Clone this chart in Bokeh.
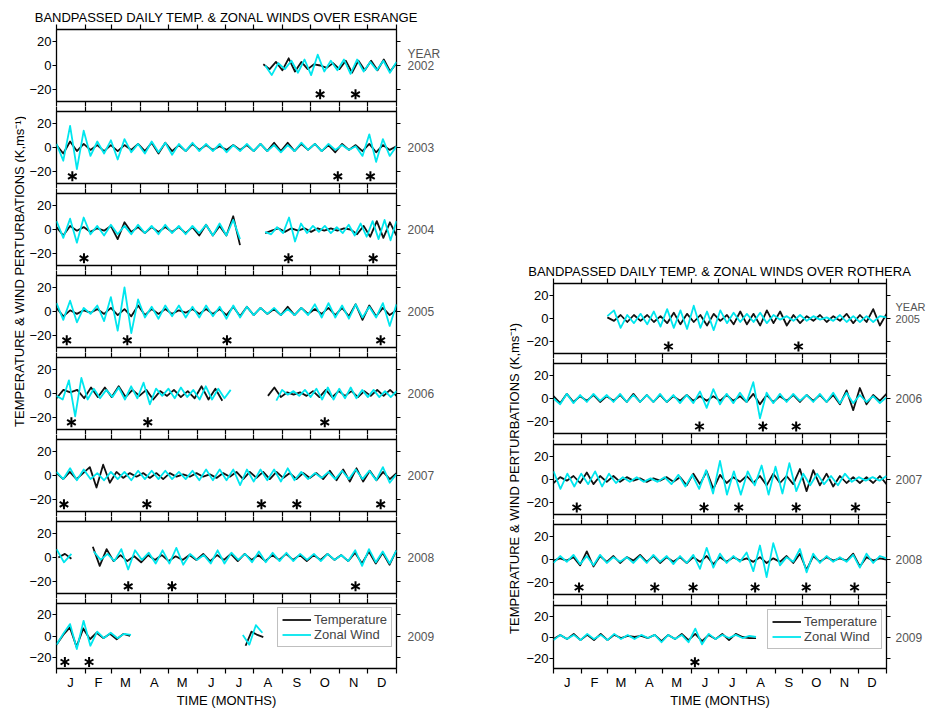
import math
import numpy as np
from bokeh.plotting import figure
from bokeh.layouts import row, column
from bokeh.models import Range1d, LinearAxis, FixedTicker, Label, Legend, LegendItem
from bokeh.embed import file_html
from bokeh.resources import INLINE

FONT = "Liberation Sans"
TEMP_COLOR = "#111111"
WIND_COLOR = "#00E6EE"

MONTH_STARTS = [0, 31, 59, 90, 120, 151, 181, 212, 243, 273, 304, 334, 365]
MONTH_MIDS = [15, 45, 74, 105, 135, 166, 196, 227, 258, 288, 319, 349]
MONTH_LETTERS = ["J", "F", "M", "A", "M", "J", "J", "A", "S", "O", "N", "D"]
Y_TICKS = [-20, 0, 20]
STAR_LEVEL = -24
YEAR_TAG_LEVEL = 10

TITLE_ES = "BANDPASSED DAILY TEMP. & ZONAL WINDS OVER ESRANGE"
TITLE_RO = "BANDPASSED DAILY TEMP. & ZONAL WINDS OVER ROTHERA"
Y_LABEL = "TEMPERATURE & WIND PERTURBATIONS (K,ms\u207b\u00b9)"
X_LABEL = "TIME (MONTHS)"

# ---- ESRANGE: segments of (first day, last day, successive extremes) ----
es2002_temp = [(222, 365, [1, -3, 3, -4, 6, -5, 3, -3, 1, 0, -2, 2, -3, 4, -6, 4, -4, 4, -4, 5, -5, 2])]
es2002_wind = [(224, 365, [0, -8, 2, -3, 4, -6, 5, -8, 9, -5, 4, -4, 5, -7, 5, -5, 3, -4, 4, -6, 3])]
es2002_stars = [283, 321]

es2003_temp = [(0, 365, [2, -5, 5, -3, 3, -2, 2, -3, 2, -3, 2, -2, 3, -3, 4, -5, 4, -3, 2, -3, 3, -2, 2, -2, 1,
                         -2, 2, -2, 2, -3, 3, -3, 4, -3, 4, -3, 3, -2, 3, -3, 2, -4, 3, -2, 2, -3, 3, -4, 2, -2, 1])]
es2003_wind = [(0, 365, [3, -11, 18, -18, 14, -7, 5, -5, 6, -10, 7, -4, 3, -5, 5, -4, 4, -6, 3, -3, 4, -3, 3, -3, 3,
                         -4, 2, -3, 3, -3, 3, -3, 2, -4, 2, -3, 4, -2, 3, -3, 3, -2, 2, -2, 1, -7, 11, -12, 7, -7, 1])]
es2003_stars = [17, 302, 337]

es2004_temp = [(0, 197, [2, -5, 3, -1, 2, -2, 1, -1, 3, -8, 6, -2, 2, -3, 2, -2, 2, -2, 2, -3, 2, -5, 4, -5, 3, -5, 11, -13]),
               (224, 365, [-3, -1, 1, -2, 1, -1, 1, -2, 1, -1, 1, -1, 1, 0, -4, 3, -6, 7, -7, 6, -5])]
es2004_wind = [(0, 197, [7, -7, 9, -11, 10, -4, 3, -5, 4, -4, 3, -4, 4, -3, 3, -4, 4, -3, 3, -4, 3, -3, 4, -5, 5, -5, 8, -8]),
               (224, 365, [-2, -4, 2, -3, 10, -10, 5, -3, 3, -2, 3, -3, 2, -3, 4, -5, 5, -6, 7, -8, 8, -9, 7])]
es2004_stars = [29.5, 249, 340]

es2005_temp = [(0, 365, [3, -4, 1, -2, 1, -1, 2, -2, 3, -3, 2, -4, 5, -3, 2, -2, 2, -2, 1, -1, 2, -2, 2, -2, 2,
                         -3, 4, -4, 4, -3, 3, -2, 2, -3, 4, -3, 3, -2, 2, -2, 3, -3, 3, -4, 6, -7, 5, -4, 3, -3, 1])]
es2005_wind = [(0, 365, [7, -7, 9, -9, 3, -2, 5, -8, 12, -16, 20, -18, 10, -5, 4, -6, 5, -4, 5, -5, 4, -5, 5, -4, 4,
                         -6, 5, -5, 4, -3, 3, -2, 3, -3, 2, -3, 3, -3, 6, -5, 7, -5, 5, -6, 6, -5, 4, -5, 7, -12, 6])]
es2005_stars = [11, 76, 183, 348]

es2006_temp = [(0, 178, [-4, 3, 1, 3, -4, 5, -3, 5, -3, 6, -3, 3, -2, 3, -5, 2, -2, 3, -3, 2, -4, 6, -5, 4, -6]),
               (227, 365, [-2, 5, -3, 1, -1, 1, -2, 2, -3, 3, -3, 2, -2, 2, -3, 2, -2, 3, -2, 3, -2])]
es2006_wind = [(0, 187, [-2, -5, 11, -19, 13, -5, 4, -4, 3, -3, 5, -5, 6, -4, 9, -9, 4, -2, 4, -4, 5, -3, 3, -5, 6, -5, 4, -4, 3]),
               (236, 365, [-6, 3, -1, 2, -2, 3, -3, 4, -5, 5, -5, 4, -4, 5, -4, 3, -3, 3, -3, 2, -3, 2])]
es2006_stars = [16, 98, 288]

es2007_temp = [(0, 365, [2, -3, 3, -3, 2, 7, -10, 9, -6, 3, -2, 2, -1, 2, -2, 2, -3, 2, -1, 1, -1, 2, -1, 1, -2, 2,
                         -1, 3, -3, 3, -2, 3, -3, 3, -2, 2, -3, 2, -2, 2, -3, 4, -4, 5, -5, 6, -5, 4, -4, 3, -3, 2])]
es2007_wind = [(0, 365, [3, -3, 6, -4, 5, -3, 2, -4, 3, -3, 3, -4, 4, -3, 4, -3, 4, -3, 3, -3, 4, -4, 5, -4, 5,
                         -4, 5, -8, 5, -5, 5, -4, 5, -5, 6, -4, 3, -3, 2, -2, 3, -3, 4, -3, 5, -3, 4, -4, 7, -6, 1])]
es2007_stars = [8, 97, 220, 258, 348]

es2008_temp = [(2, 16, [0, 3, -1]),
               (39, 365, [9, -7, 7, -3, 2, -3, 1, -4, 2, -2, 2, -3, 1, -2, 2, -2, 3, -3, 2, -2, 3, -3, 3, -2, 2,
                          -3, 2, -2, 3, -2, 2, -3, 2, -2, 3, -2, 2, -3, 4, -5, 5, -5, 4, -6, 6])]
es2008_wind = [(0, 16, [7, -4, 3]),
               (40, 365, [5, -2, 3, -3, 7, -10, 6, -2, 4, -5, 6, -5, 8, -6, 3, -2, 2, -5, 6, -5, 4, -2, 3, -4, 5,
                          -4, 4, -3, 4, -3, 3, -2, 3, -3, 3, -2, 2, -3, 6, -7, 7, -4, 5, -5, 6])]
es2008_stars = [77, 124, 321]

es2009_temp = [(0, 79, [-8, 1, 8, -10, 7, -3, 3, -2, 2, -3, 2, 0]),
               (203, 222, [-9, 4, 1, -1])]
es2009_wind = [(0, 80, [-8, 2, 11, -12, 14, -9, 4, -2, 3, -2, 2, 1]),
               (200, 221, [1, -8, 10, 3])]
es2009_stars = [9, 35]

# ---- ROTHERA ----
ro2005_temp = [(59, 365, [1, -2, 3, -3, 3, -2, 3, -3, 2, -4, 5, -5, 4, -3, 3, -6, 4, -2, 3, -5, 6, -5, 4, -6, 7,
                          -4, 6, -6, 3, -4, 2, -2, 3, -3, 2, -2, 4, -4, 3, -3, 8, -6, 4])]
ro2005_wind = [(59, 365, [2, 7, -8, 3, -4, 4, -5, 6, -7, 8, -8, 7, -9, 11, -8, 6, -10, 7, -4, 5, -3, 4, -3, 5, -4,
                          3, -1, 2, -2, 3, -2, 2, -1, 1, -2, 3, -3, 2, -3, 2, -3, 2, 1])]
ro2005_stars = [126, 268.5]

ro2006_temp = [(0, 365, [2, -4, 4, -3, 2, -2, 3, -3, 2, -2, 3, -3, 4, -3, 3, -3, 3, -3, 2, -2, 3, -2, 2, -2, 2,
                         -2, 3, -2, 2, -3, 4, -5, 3, -3, 2, -2, 3, -3, 3, -2, 3, -3, 3, -5, 7, -10, 9, -5, 3, -2, 4])]
ro2006_wind = [(0, 365, [0, -5, 4, -4, 3, -3, 4, -2, 3, -3, 4, -3, 3, -3, 3, -3, 4, -3, 3, -4, 3, -4, 6, -8, 8,
                         -5, 4, -4, 5, -3, 14, -17, 5, -4, 4, -3, 4, -2, 3, -3, 4, -3, 5, -4, 5, -4, 3, -3, 2, -4, 1])]
ro2006_stars = [160, 229.5, 266]

ro2007_temp = [(0, 365, [-3, 2, -1, 3, -3, 6, -4, 3, -2, 3, -2, 2, -1, 1, -2, 1, -1, 2, -2, 2, -5, 5, -4, 7, -8,
                         4, -3, 2, -2, 3, -3, 3, -5, 5, -3, 3, -4, 9, -10, 8, -5, 5, -6, 3, -3, 2, -3, 2, -3, 3, -4])]
ro2007_wind = [(0, 365, [7, -8, 5, -6, 5, -4, 7, -6, 5, -3, 2, -2, 2, -2, 1, -2, 2, -4, 4, -6, 4, -8, 8, -12, 16,
                         -13, 7, -13, 7, -5, 12, -13, 11, -12, 14, -10, 5, -5, 5, -4, 3, -5, 5, -2, 2, -1, 2, -1, 3])]
ro2007_stars = [25.5, 165, 203, 266, 331]

ro2008_temp = [(0, 365, [-1, 1, -1, 2, -5, 7, -6, 3, -2, 3, -3, 2, -1, 4, -2, 3, -3, 2, -2, 2, -3, 2, -2, 3, -4,
                         2, -2, 2, -1, 1, -2, 2, -3, 1, -2, 3, -3, 5, -9, 3, -2, 2, -1, 1, -1, 5, -6, 2, -1, 1, 0])]
ro2008_wind = [(0, 365, [-3, 3, -2, 4, -4, 3, -5, 4, -3, 2, -2, 2, -3, 3, -3, 4, -2, 3, -4, 3, -3, 4, -8, 10, -7,
                         5, -3, 3, -2, 6, -10, 12, -15, 14, -5, 2, -2, 9, -11, 5, -3, 3, -2, 2, -2, 4, -7, 5, -3, 3, 1])]
ro2008_stars = [28, 111, 153, 221, 277, 330]

ro2009_temp = [(0, 222, [-2, 2, -2, 3, -3, 2, -3, 3, -3, 2, -1, 1, 0, 1, -1, 2, -4, 2, -2, 3, -3, 3, -4, 2, -2,
                         3, -3, 3, 0, -1, -1])]
ro2009_wind = [(0, 222, [-3, 2, -2, 2, -3, 3, -2, 2, -3, 3, -2, 2, -2, 2, -1, 2, -5, 2, -2, 2, -5, 8, -7, 3, -2,
                         2, -1, 2, -1, 1, 0])]
ro2009_stars = [155]

ESRANGE_ROWS = [
    (2002, es2002_temp, es2002_wind, es2002_stars),
    (2003, es2003_temp, es2003_wind, es2003_stars),
    (2004, es2004_temp, es2004_wind, es2004_stars),
    (2005, es2005_temp, es2005_wind, es2005_stars),
    (2006, es2006_temp, es2006_wind, es2006_stars),
    (2007, es2007_temp, es2007_wind, es2007_stars),
    (2008, es2008_temp, es2008_wind, es2008_stars),
    (2009, es2009_temp, es2009_wind, es2009_stars),
]
ROTHERA_ROWS = [
    (2005, ro2005_temp, ro2005_wind, ro2005_stars),
    (2006, ro2006_temp, ro2006_wind, ro2006_stars),
    (2007, ro2007_temp, ro2007_wind, ro2007_stars),
    (2008, ro2008_temp, ro2008_wind, ro2008_stars),
    (2009, ro2009_temp, ro2009_wind, ro2009_stars),
]


def add_series(p, segs, color):
    xs = [list(np.linspace(a, b, len(v))) for a, b, v in segs]
    ys = [list(v) for a, b, v in segs]
    return p.multi_line(xs=xs, ys=ys, line_color=color, line_width=1.8, line_join="round")


def add_stars(p, days):
    levels = [STAR_LEVEL] * len(days)
    for ang in (math.pi / 2, math.pi / 6, -math.pi / 6):
        p.scatter(x=days, y=levels, marker="dash", angle=ang, size=10,
                  line_color="black", line_width=2)


def base_axis(ticker, **kw):
    ax = LinearAxis(ticker=ticker, **kw)
    ax.axis_line_color = None
    ax.major_tick_line_color = "black"
    ax.major_tick_line_width = 1.2
    ax.minor_tick_line_color = "black"
    ax.minor_tick_line_width = 1.2
    ax.major_tick_in = 0
    ax.minor_tick_in = 0
    ax.major_label_text_font = FONT
    ax.axis_label_text_font = FONT
    return ax


def month_axis(last):
    if last:
        ax = base_axis(FixedTicker(ticks=MONTH_MIDS, minor_ticks=MONTH_STARTS),
                       major_label_overrides={m: t for m, t in zip(MONTH_MIDS, MONTH_LETTERS)})
        ax.major_tick_out = 0
        ax.minor_tick_out = 5
        ax.major_label_standoff = 1
        ax.major_label_text_font_size = "13px"
        ax.major_label_text_color = "black"
        ax.axis_label = X_LABEL
        ax.axis_label_standoff = 0
        ax.axis_label_text_font_size = "13px"
        ax.axis_label_text_font_style = "normal"
        ax.axis_label_text_color = "black"
    else:
        ax = base_axis(FixedTicker(ticks=[], minor_ticks=MONTH_STARTS))
        ax.major_tick_out = 0
        ax.minor_tick_out = 5
        ax.major_label_standoff = 0
    return ax


def make_row(year, temp, wind, stars, fw, fh, bl, br, bt, bb, year_standoff, year_font,
             title=None, first=False, last=False):
    p = figure(width=bl + fw + br, height=bt + fh + bb, title=title,
               x_range=Range1d(0, 365), y_range=Range1d(-30, 30),
               x_axis_type=None, y_axis_type=None,
               output_backend="svg", toolbar_location=None,
               min_border_left=bl, min_border_right=br, min_border_top=bt, min_border_bottom=bb)
    p.outline_line_color = "black"
    p.outline_line_width = 1.3
    p.background_fill_color = "white"
    p.border_fill_color = "white"
    if title:
        p.title.align = "center"
        p.title.text_font = FONT
        p.title.text_font_size = "13px"
        p.title.text_font_style = "normal"
        p.title.text_color = "black"
        p.title.standoff = 0

    p.add_layout(month_axis(False), "above")
    p.add_layout(month_axis(last), "below")

    left = base_axis(FixedTicker(ticks=Y_TICKS))
    left.major_tick_out = 4
    left.major_label_standoff = 1
    left.major_label_text_font_size = "13px"
    left.major_label_text_color = "black"
    p.add_layout(left, "left")

    # right axis: tick marks at -20/0/20, text = year (plus the "YEAR" tag on the first row)
    label_ticks = [0, YEAR_TAG_LEVEL] if first else [0]
    overrides = {0: str(year)}
    if first:
        overrides[YEAR_TAG_LEVEL] = "YEAR"
    right = base_axis(FixedTicker(ticks=label_ticks, minor_ticks=Y_TICKS),
                      major_label_overrides=overrides)
    right.major_tick_out = 0
    right.minor_tick_out = 4
    right.major_label_standoff = year_standoff
    right.major_label_text_font_size = year_font
    right.major_label_text_color = "#555555"
    p.add_layout(right, "right")

    r_t = add_series(p, temp, TEMP_COLOR)
    r_w = add_series(p, wind, WIND_COLOR)
    add_stars(p, stars)

    if last:
        legend = Legend(items=[LegendItem(label="Temperature", renderers=[r_t]),
                               LegendItem(label="Zonal Wind", renderers=[r_w])],
                        location="top_right", margin=4, padding=4, spacing=0,
                        glyph_width=29, glyph_height=15, label_height=15, label_standoff=3,
                        label_text_font=FONT, label_text_font_size="13px",
                        border_line_color="#808080", border_line_width=1,
                        background_fill_color="white", background_fill_alpha=1)
        p.add_layout(legend)
    return p


def side_label(width, height, x, y):
    p = figure(width=width, height=height, x_range=Range1d(0, 1), y_range=Range1d(0, 1),
               x_axis_type=None, y_axis_type=None, output_backend="svg", toolbar_location=None,
               min_border=0)
    p.outline_line_color = None
    p.add_layout(Label(x=x, y=y, x_units="screen", y_units="screen", text=Y_LABEL, angle=math.pi / 2,
                       text_font=FONT, text_font_size="13px", text_color="black",
                       text_align="center", text_baseline="middle"))
    return p


TOTAL_H = 710

# left panel (ESRANGE)
left_figs = []
n = len(ESRANGE_ROWS)
for i, (yr, t, w, s) in enumerate(ESRANGE_ROWS):
    bt = 29 if i == 0 else 5
    bb = 35 if i == n - 1 else 5
    left_figs.append(make_row(yr, t, w, s, fw=351, fh=72, bl=26, br=40, bt=bt, bb=bb,
                              year_standoff=7, year_font="12px",
                              title=TITLE_ES if i == 0 else None, first=(i == 0), last=(i == n - 1)))

# right panel (ROTHERA)
right_borders = [(283, 5), (5, 6), (5, 5), (5, 6), (5, 35)]
right_figs = []
m = len(ROTHERA_ROWS)
for i, (yr, t, w, s) in enumerate(ROTHERA_ROWS):
    bt, bb = right_borders[i]
    right_figs.append(make_row(yr, t, w, s, fw=344, fh=70, bl=26, br=35, bt=bt, bb=bb,
                               year_standoff=5, year_font="11px" if i == 0 else "12px",
                               title=TITLE_RO if i == 0 else None, first=(i == 0), last=(i == m - 1)))

left_lab = side_label(26, TOTAL_H, 18.5, TOTAL_H - 271)
right_lab = side_label(80, TOTAL_H, 71, TOTAL_H - 478)

layout = row(left_lab, column(left_figs, spacing=0), right_lab, column(right_figs, spacing=0), spacing=0)

open("out.html", "w").write(file_html(layout, INLINE))
